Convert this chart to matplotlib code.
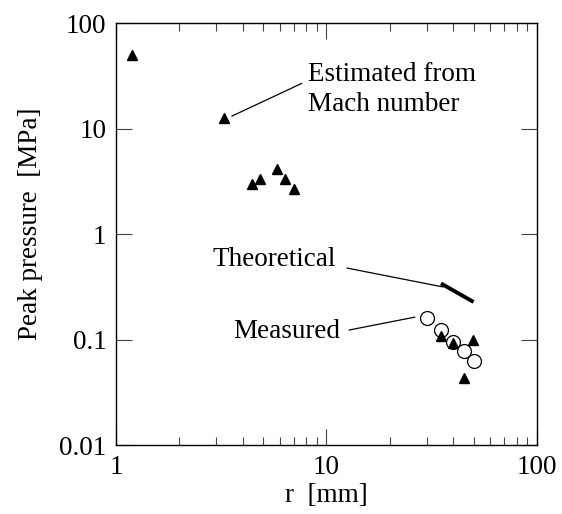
import numpy as np
import matplotlib.pyplot as plt

plt.rcParams['font.family'] = ['Liberation Serif', 'DejaVu Serif']
plt.rcParams['font.size'] = 19.5

# estimated from Mach number (filled triangles)
est_r = [1.19, 3.26, 4.44, 4.85, 5.82, 6.37, 7.0, 35.0, 40.0, 44.8, 49.8]
est_p = [50.0, 12.5, 3.0, 3.3, 4.1, 3.3, 2.7, 0.108, 0.092, 0.043, 0.098]

# measured (open circles)
meas_r = [29.9, 34.9, 40.0, 44.9, 50.0]
meas_p = [0.160, 0.123, 0.094, 0.078, 0.063]

# theoretical
theo_r = [35.0, 50.0]
theo_p = [0.34, 0.227]

fig = plt.figure(figsize=(5.62, 5.14), dpi=100)
ax = fig.add_axes([0.2064, 0.1342, 0.749, 0.821])

ax.plot(theo_r, theo_p, color='black', lw=2.8, solid_capstyle='butt')
ax.plot(meas_r, meas_p, 'o', mfc='white', mec='black', mew=0.9, ms=10, ls='none')
ax.plot(est_r, est_p, '^', color='black', ms=7.5, ls='none')

ax.set_xscale('log')
ax.set_yscale('log')
ax.set_xlim(1, 100)
ax.set_ylim(0.01, 100)
ax.set_xticks([1, 10, 100])
ax.set_xticklabels(['1', '10', '100'])
ax.set_yticks([0.01, 0.1, 1, 10, 100])
ax.set_yticklabels(['0.01', '0.1', '1', '10', '100'])
ax.yaxis.set_minor_locator(plt.NullLocator())

ax.tick_params(which='major', direction='in', length=11.5, width=0.8,
               top=True, right=True, pad=7, color='#444444')
ax.tick_params(which='minor', direction='in', length=5.5, width=0.8,
               top=True, right=True, color='#444444')
for s in ax.spines.values():
    s.set_linewidth(1.0)

ax.set_xlabel('r  [mm]', labelpad=2)
ax.set_ylabel('Peak pressure  [MPa]')
ax.yaxis.set_label_coords(-0.174, 0.525)

line = dict(arrowstyle='-', lw=0.9, color='black', shrinkA=0, shrinkB=0)
ax.annotate('', xy=(3.55, 13.1), xytext=(7.63, 26.8), arrowprops=line)
ax.text(8.2, 23.5, 'Estimated from\nMach number', ha='left', va='center',
        linespacing=1.3)

ax.annotate('', xy=(35.8, 0.315), xytext=(12.5, 0.476), arrowprops=line)
ax.text(2.86, 0.57, 'Theoretical', ha='left', va='center')

ax.annotate('', xy=(26.3, 0.163), xytext=(12.8, 0.123), arrowprops=line)
ax.text(3.6, 0.119, 'Measured', ha='left', va='center')

fig.savefig('out.png', dpi=100)
